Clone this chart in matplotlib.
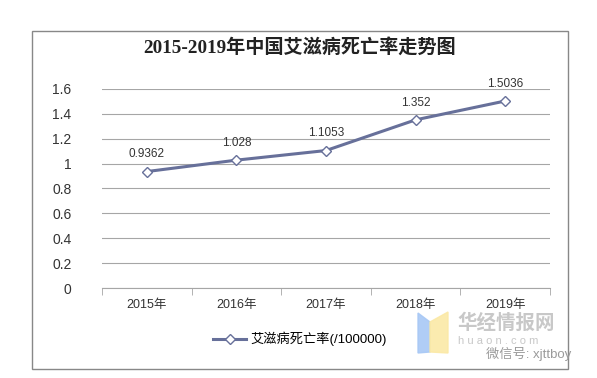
import matplotlib.pyplot as plt
from matplotlib.patches import Rectangle, Polygon

plt.rcParams['font.family'] = ['Liberation Sans', 'Noto Sans CJK SC', 'DejaVu Sans']

years = ['2015年', '2016年', '2017年', '2018年', '2019年']
rates = [0.9362, 1.028, 1.1053, 1.352, 1.5036]
labels = ['0.9362', '1.028', '1.1053', '1.352', '1.5036']
yticks = [0, 0.2, 0.4, 0.6, 0.8, 1, 1.2, 1.4, 1.6]

line_color = '#67709a'

fig = plt.figure(figsize=(5.97, 3.78), dpi=100)
# outer chart border
fig.patches.append(Rectangle((32 / 597, 1 - 369 / 378), (568 - 32) / 597, (369 - 31) / 378,
                             transform=fig.transFigure, fill=False, edgecolor='#888888', lw=1))

ax = fig.add_axes([102 / 597, 1 - 288 / 378, 448 / 597, 199 / 378])
x = list(range(len(years)))
ax.plot(x, rates, color=line_color, lw=2.2, marker='D', markersize=5.5,
        markerfacecolor='white', markeredgecolor=line_color, markeredgewidth=1,
        label='艾滋病死亡率(/100000)', zorder=3)
for xi, yi, t in zip(x, rates, labels):
    ax.annotate(t, (xi, yi), xytext=(0, 8), textcoords='offset points',
                ha='center', va='bottom', fontsize=8.5, color='#333333')

ax.set_xlim(-0.5, len(years) - 0.5)
ax.set_ylim(0, 1.6)
ax.set_yticks(yticks)
ax.set_yticklabels(['0', '0.2', '0.4', '0.6', '0.8', '1', '1.2', '1.4', '1.6'])
ax.yaxis.grid(True, color='#a6a6a6', lw=0.8)
ax.set_axisbelow(True)
for s in ['top', 'right', 'left']:
    ax.spines[s].set_visible(False)
ax.spines['bottom'].set_color('#a6a6a6')
ax.tick_params(axis='y', length=0, labelsize=10, colors='#333333', pad=22)
ax.set_xticks(x)
ax.set_xticklabels(years)
ax.tick_params(axis='x', length=0, labelsize=9, colors='#333333', pad=8)
# category boundary tick marks
ax.set_xticks([i - 0.5 for i in range(len(years) + 1)], minor=True)
ax.tick_params(axis='x', which='minor', length=5, color='#a6a6a6')

fig.text(300 / 597, 1 - 47 / 378, '2015-2019年中国艾滋病死亡率走势图', ha='center', va='center',
         fontsize=13.8, fontweight='bold', color='#222222',
         family=['Liberation Serif', 'Noto Sans CJK SC'])

leg = fig.legend(loc='center', bbox_to_anchor=(300 / 597, 1 - 339 / 378), frameon=False,
                 fontsize=9.5, handlelength=2.5, handletextpad=0.3)

# watermark
fig.patches.append(Polygon([[418 / 597, 1 - 313 / 378], [430 / 597, 1 - 322 / 378],
                            [430 / 597, 1 - 352 / 378], [418 / 597, 1 - 353 / 378]],
                           closed=True, transform=fig.transFigure, color='#a8c8f5', alpha=0.9))
fig.patches.append(Polygon([[430 / 597, 1 - 322 / 378], [448 / 597, 1 - 312 / 378],
                            [448 / 597, 1 - 353 / 378], [430 / 597, 1 - 352 / 378]],
                           closed=True, transform=fig.transFigure, color='#fbe9a6', alpha=0.9))
fig.text(457 / 597, 1 - 323 / 378, '华经情报网', fontsize=14, fontweight='bold',
         color='#c8c8c8', va='center', ha='left')
fig.text(458 / 597, 1 - 341 / 378, 'h u a o n . c o m', fontsize=8,
         color='#c8c8c8', va='center', ha='left')
fig.text(486 / 597, 1 - 354 / 378, '微信号: xjttboy', fontsize=9.5,
         color='#9a9a9a', va='center', ha='left')

fig.savefig('out.png', dpi=100)
